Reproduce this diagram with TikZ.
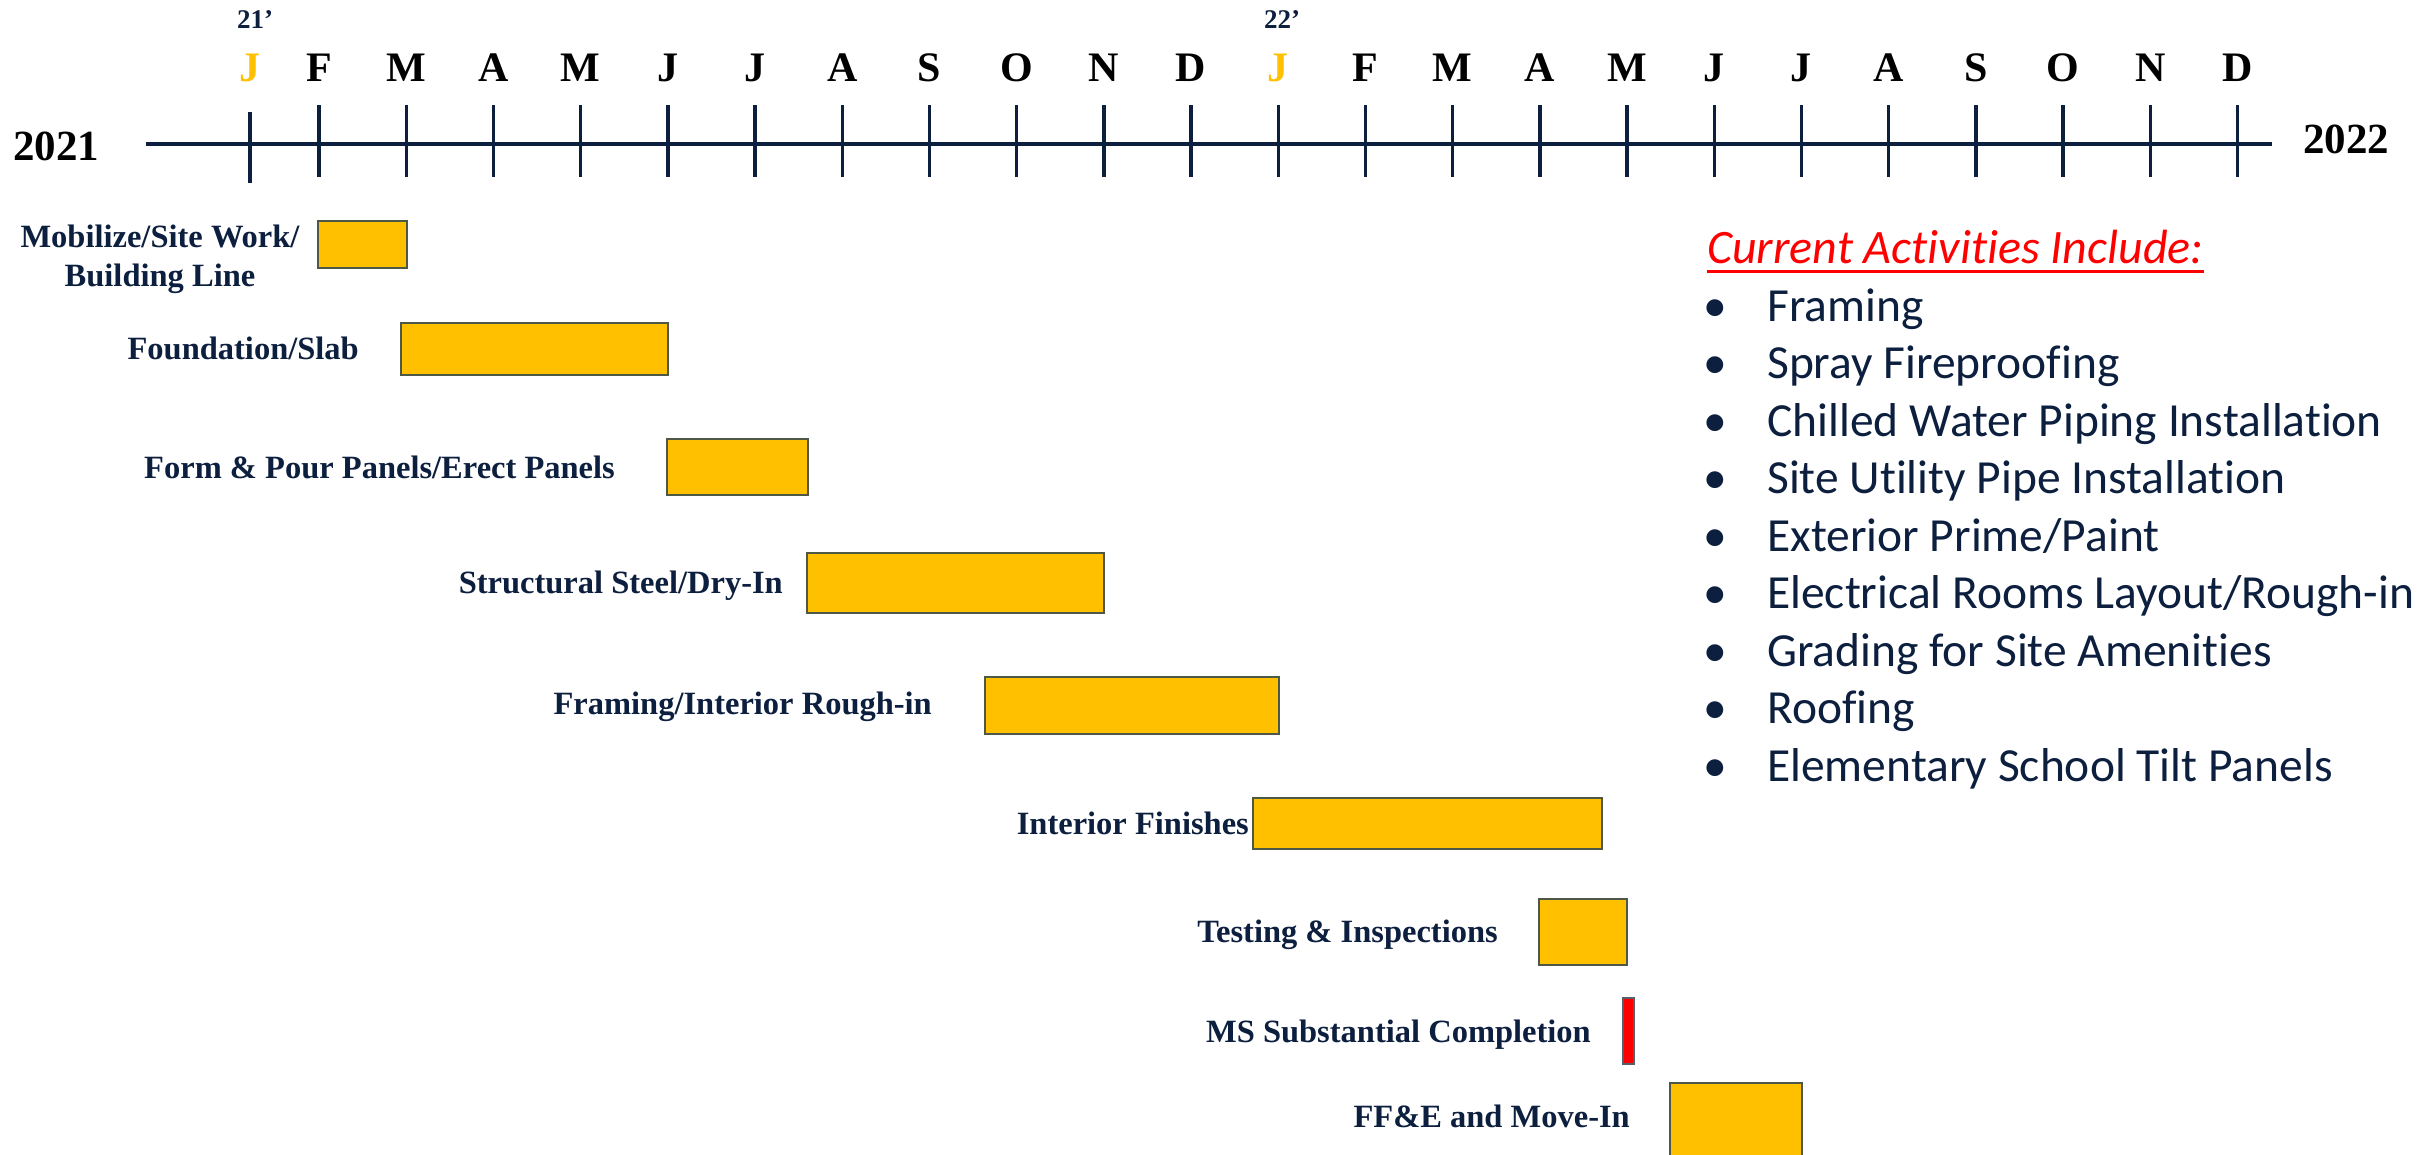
\documentclass[tikz,border=0pt]{standalone}
\usepackage{fontspec}
\setmainfont{Liberation Serif}
\newfontfamily\calfont[Ligatures={NoCommon}]{Carlito}
\definecolor{navy}{RGB}{13,31,62}
\definecolor{gold}{RGB}{255,192,0}
\definecolor{boxline}{RGB}{78,88,70}
\definecolor{redbar}{RGB}{255,0,0}
\definecolor{redline}{RGB}{86,96,106}
\tikzset{
  lbl/.style={inner sep=0pt, anchor=base east, text=navy, font=\fontsize{32.5}{39}\selectfont\bfseries},
  month/.style={inner sep=0pt, anchor=base, text=black, font=\fontsize{42}{50}\selectfont\bfseries},
  monthj/.style={month, text=gold},
  yr/.style={inner sep=0pt, text=black, font=\fontsize{43}{50}\selectfont\bfseries},
  yrs/.style={inner sep=0pt, anchor=base, text=navy, font=\fontsize{27}{32}\selectfont\bfseries},
  bar/.style={draw=boxline, line width=2.6pt, fill=gold},
  msbar/.style={draw=redline, line width=2.6pt, fill=redbar},
  tick/.style={draw=navy, line width=3.4pt},
  axisline/.style={draw=navy, line width=4pt},
  item/.style={inner sep=0pt, anchor=base west, text=navy, font=\fontsize{47.5}{56}\selectfont\calfont},
  bul/.style={inner sep=0pt, anchor=base, text=navy, font=\fontsize{47.5}{56}\selectfont\calfont},
}
\begin{document}
\begin{tikzpicture}[x=1pt,y=-1pt]
\useasboundingbox (0,0) rectangle (2425,1154);
% axis
\coordinate (ax0) at (146,144);
\coordinate (ax1) at (2272,144);
\draw[axisline] (ax0) -- (ax1);
% first tick (21')
\coordinate (t0a) at (250,112);
\coordinate (t0b) at (250,183);
\draw[tick] (t0a) -- (t0b);
\node[monthj] (m0) at (250,81) {J};
\node[yrs] (y21) at (255,28) {21’};
% remaining ticks
\foreach \m [count=\i] in {F,M,A,M,J,J,A,S,O,N,D,J,F,M,A,M,J,J,A,S,O,N,D}{
  \pgfmathsetmacro{\xx}{319+87.2*(\i-1)}
  \coordinate (ta\i) at (\xx,105);
  \coordinate (tb\i) at (\xx,177);
  \draw[tick] (ta\i) -- (tb\i);
  \ifnum\i=12
    \node[monthj] (m\i) at (\xx,81) {\m};
  \else
    \node[month] (m\i) at (\xx,81) {\m};
  \fi
}
\node[yrs] (y22) at (1282,28) {22’};
\node[yr, anchor=base west] (yr2021) at (13,160) {2021};
\node[yr, anchor=base west] (yr2022) at (2303,153) {2022};
% bars
\draw[bar] (318,221) rectangle (407,268);
\draw[bar] (401,323) rectangle (668,375);
\draw[bar] (667,439) rectangle (808,495);
\draw[bar] (807,553) rectangle (1104,613);
\draw[bar] (985,677) rectangle (1279,734);
\draw[bar] (1253,798) rectangle (1602,849);
\draw[bar] (1539,899) rectangle (1627,965);
\draw[msbar] (1623,998) rectangle (1634,1064);
\draw[bar] (1670,1083) rectangle (1802,1180);
% labels
\node[lbl, anchor=base] (l1a) at (160,247) {Mobilize/Site Work/};
\node[lbl, anchor=base] (l1b) at (160,286) {Building Line};
\node[lbl] (l2) at (359,359) {Foundation/Slab};
\node[lbl] (l3) at (615,478) {Form \& Pour Panels/Erect Panels};
\node[lbl] (l4) at (783,593) {Structural Steel/Dry-In};
\node[lbl] (l5) at (932,714) {Framing/Interior Rough-in};
\node[lbl] (l6) at (1249,834) {Interior Finishes};
\node[lbl] (l7) at (1498,942) {Testing \& Inspections};
\node[lbl] (l8) at (1591,1042) {MS Substantial Completion};
\node[lbl] (l9) at (1630,1127) {FF\&E and Move-In};
% current activities
\node[inner sep=0pt, anchor=base west, text=redbar, font=\fontsize{48}{56}\selectfont\calfont\itshape] (title) at (1707,263) {Current Activities Include:};
\coordinate (ul0) at (title.base west |- 0,271);
\coordinate (ul1) at (title.base east |- 0,271);
\draw[redbar, line width=3pt] (ul0) -- (ul1);
\foreach \t [count=\k] in {Framing,Spray Fireproofing,Chilled Water Piping Installation,Site Utility Pipe Installation,Exterior Prime/Paint,Electrical Rooms Layout/Rough-in,Grading for Site Amenities,Roofing,Elementary School Tilt Panels}{
  \pgfmathsetmacro{\yy}{321+57.5*(\k-1)}
  \node[bul] (b\k) at (1715,\yy) {•};
  \node[item] (i\k) at (1767,\yy) {\t};
}
\end{tikzpicture}
\end{document}
